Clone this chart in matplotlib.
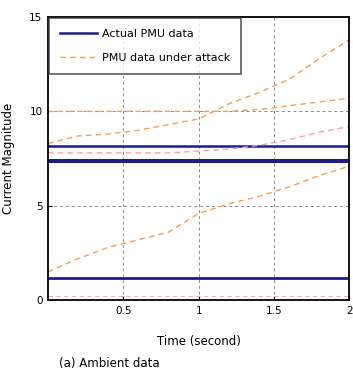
import matplotlib
matplotlib.use("Agg")
import matplotlib.pyplot as plt

plt.rcParams['font.family'] = ['Liberation Sans Narrow', 'DejaVu Sans']

# time axis (s)
t = [0.0, 0.2, 0.4, 0.6, 0.8, 1.0, 1.2, 1.4, 1.6, 1.8, 2.0]

# actual PMU current magnitudes (flat)
actual_1 = [8.15] * 11
actual_2 = [7.45] * 11
actual_3 = [7.35] * 11
actual_4 = [1.15] * 11

# PMU data under attack
attack_1 = [1.5, 2.2, 2.8, 3.2, 3.6, 4.6, 5.1, 5.5, 6.0, 6.6, 7.1]
attack_2 = [8.3, 8.7, 8.8, 9.0, 9.3, 9.6, 10.4, 11.0, 11.7, 12.8, 13.8]
attack_3 = [10.0, 10.0, 10.0, 10.0, 10.0, 10.0, 10.0, 10.1, 10.3, 10.5, 10.7]
attack_4 = [7.8, 7.8, 7.8, 7.8, 7.8, 7.9, 8.0, 8.2, 8.5, 8.9, 9.2]
attack_5 = [0.2] * 11

navy = '#1c1c8a'
orange = '#f0a060'

fig = plt.figure(figsize=(3.53, 3.78), dpi=100)
ax = fig.add_axes([0.136, 0.206, 0.854, 0.749])

ax.plot(t, actual_1, color=navy, lw=1.8, label='Actual PMU data')
ax.plot(t, actual_2, color=navy, lw=2.2)
ax.plot(t, actual_3, color=navy, lw=2.2)
ax.plot(t, actual_4, color=navy, lw=2.0)

dash = (0, (4, 3))
ax.plot(t, attack_1, color=orange, lw=1.0, ls=dash, label='PMU data under attack')
ax.plot(t, attack_2, color=orange, lw=1.0, ls=dash)
ax.plot(t, attack_3, color=orange, lw=1.0, ls=dash)
ax.plot(t, attack_4, color='#f2a0b8', lw=1.0, ls=dash)
ax.plot(t, attack_5, color='#f2b0c0', lw=0.8, ls=dash)

ax.set_xlim(0, 2)
ax.set_ylim(0, 15)
ax.set_xticks([0.5, 1, 1.5, 2])
ax.set_xticklabels(['0.5', '1', '1.5', '2'])
ax.set_yticks([0, 5, 10, 15])
ax.tick_params(direction='in', labelsize=7.5, length=3, pad=4)
ax.grid(True, color='#888888', lw=0.7, ls=(0, (3, 3)))
for s in ax.spines.values():
    s.set_linewidth(1.3)

ax.set_xlabel('Time (second)', fontsize=8.5, labelpad=14)
ax.set_ylabel('Current Magnitude', fontsize=8.5, labelpad=10)

leg = ax.legend(loc='upper left', fontsize=8, frameon=True, fancybox=False,
                edgecolor='#333333', borderaxespad=0.05, handlelength=3.4,
                handletextpad=0.4, borderpad=1.0, labelspacing=1.3)
leg.get_frame().set_linewidth(1.2)

fig.text(0.31, 0.03, '(a) Ambient data', fontsize=8.5, ha='center')

fig.savefig('out.png', dpi=100, facecolor='white')
